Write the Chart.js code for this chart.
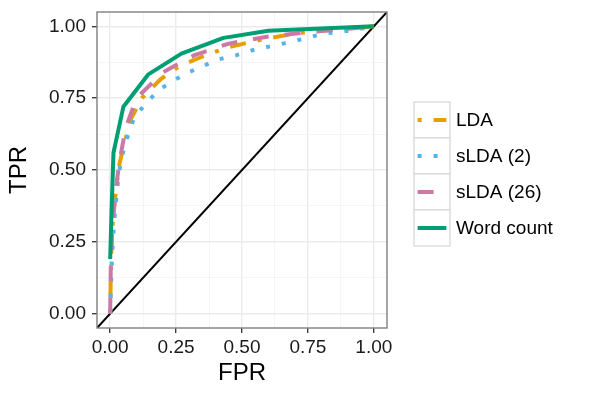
<!DOCTYPE html>
<html><head><meta charset="utf-8">
<script src="https://cdn.jsdelivr.net/npm/chart.js@4/dist/chart.umd.min.js"></script>
<style>html,body{margin:0;padding:0;background:#fff}#wrap{width:600px;height:400px}</style>
</head><body><div id="wrap"><canvas id="c" width="600" height="400"></canvas></div>
<script>
// ---- data ----
const seriesNames = ['LDA', 'sLDA (2)', 'sLDA (26)', 'Word count'];
const ldaFPR = [0, 0.002, 0.005, 0.012, 0.025, 0.035, 0.05, 0.08, 0.12, 0.19, 0.26, 0.35, 0.44, 0.53, 0.61, 0.7, 0.8, 0.89, 1];
const ldaTPR = [0, 0.12, 0.24, 0.35, 0.45, 0.52, 0.58, 0.68, 0.75, 0.815, 0.86, 0.895, 0.925, 0.945, 0.96, 0.975, 0.985, 0.99, 1];
const slda2FPR = [0, 0.003, 0.007, 0.015, 0.027, 0.04, 0.06, 0.09, 0.13, 0.18, 0.23, 0.29, 0.35, 0.41, 0.48, 0.54, 0.61, 0.68, 0.74, 0.81, 0.87, 0.94, 1];
const slda2TPR = [0, 0.1, 0.2, 0.32, 0.44, 0.53, 0.6, 0.68, 0.726, 0.775, 0.806, 0.837, 0.861, 0.885, 0.9, 0.917, 0.931, 0.945, 0.958, 0.975, 0.98, 0.99, 1];
const slda26FPR = [0, 0.002, 0.007, 0.02, 0.035, 0.06, 0.1, 0.2, 0.32, 0.45, 0.6, 0.75, 0.88, 1];
const slda26TPR = [0, 0.15, 0.28, 0.42, 0.53, 0.65, 0.75, 0.84, 0.9, 0.94, 0.965, 0.98, 0.99, 1];
const wcFPR = [0, 0.005, 0.0125, 0.05, 0.145, 0.27, 0.43, 0.6, 1];
const wcTPR = [0.19, 0.35, 0.56, 0.72, 0.833, 0.905, 0.96, 0.985, 1];
const diagFPR = [-0.05, 1.05];
const diagTPR = [-0.05, 1.05];
const majorTicks = [0, 0.25, 0.5, 0.75, 1];
const minorTicks = [0.125, 0.375, 0.625, 0.875];
const tickLabels = ['0.00', '0.25', '0.50', '0.75', '1.00'];
const colors = ['#E69F00', '#56B4E9', '#CC79A7', '#009E73'];

const LW = 4;
const dashes = [[LW, 3*LW, 4*LW, 3*LW], [LW, 3*LW], [4*LW, 4*LW], []];

function pts(xs, ys) { return xs.map((x, i) => ({x: x, y: ys[i]})); }
const seriesData = [pts(ldaFPR, ldaTPR), pts(slda2FPR, slda2TPR), pts(slda26FPR, slda26TPR), pts(wcFPR, wcTPR)];

const datasets = seriesNames.map((n, i) => ({
  label: n, data: seriesData[i], borderColor: colors[i], borderWidth: LW,
  borderDash: dashes[i], borderCapStyle: 'butt', borderJoinStyle: 'round',
  pointRadius: 0, tension: 0, fill: false, order: 3 - i
}));
datasets.push({label: 'diag', data: pts(diagFPR, diagTPR), borderColor: '#000', borderWidth: 2,
  pointRadius: 0, fill: false, order: 10});

function buildTicks(scale) {
  const all = majorTicks.concat(minorTicks).sort((a, b) => a - b);
  scale.ticks = all.map(v => ({value: v}));
}
function isMajor(v) { return majorTicks.some(m => Math.abs(m - v) < 1e-9); }
function labelFor(v) { const k = majorTicks.findIndex(m => Math.abs(m - v) < 1e-9); return k >= 0 ? tickLabels[k] : ''; }
const gridOpts = {
  color: c => isMajor(c.tick ? c.tick.value : 0) ? '#EBEBEB' : '#F3F3F3',
  lineWidth: c => isMajor(c.tick ? c.tick.value : 0) ? 1.4 : 0.8,
  tickColor: c => isMajor(c.tick ? c.tick.value : 0) ? '#333333' : 'rgba(0,0,0,0)',
  tickLength: 5, tickWidth: 1.3, drawTicks: true
};

const panelBorder = {
  id: 'panelBorder',
  afterDatasetsDraw(chart) {
    const a = chart.chartArea, ctx = chart.ctx;
    ctx.save();
    ctx.strokeStyle = '#7F7F7F'; ctx.lineWidth = 1.4;
    ctx.strokeRect(a.left, a.top, a.right - a.left, a.bottom - a.top);
    ctx.restore();
  }
};
const legendPlugin = {
  id: 'ggLegend',
  afterDraw(chart) {
    const ctx = chart.ctx;
    const x0 = 414, y0 = 102, kw = 36, kh = 36;
    ctx.save();
    seriesNames.forEach((n, i) => {
      const y = y0 + i * kh;
      ctx.fillStyle = '#fff'; ctx.fillRect(x0, y, kw, kh);
      ctx.strokeStyle = '#D9D9D9'; ctx.lineWidth = 1.3; ctx.setLineDash([]);
      ctx.strokeRect(x0, y, kw, kh);
      ctx.save();
      ctx.beginPath(); ctx.rect(x0, y, kw, kh); ctx.clip();
      ctx.strokeStyle = colors[i]; ctx.lineWidth = LW; ctx.lineCap = 'butt';
      ctx.setLineDash(dashes[i]);
      ctx.beginPath(); ctx.moveTo(x0 + kw * 0.1, y + kh / 2); ctx.lineTo(x0 + kw * 0.9, y + kh / 2); ctx.stroke();
      ctx.restore();
      ctx.fillStyle = '#000'; ctx.font = '19px "Liberation Sans", Arial, sans-serif';
      ctx.textAlign = 'left'; ctx.textBaseline = 'middle';
      ctx.fillText(n, 456, y + kh / 2 + 1);
    });
    ctx.restore();
  }
};

new Chart(document.getElementById('c'), {
  type: 'line',
  data: {datasets: datasets},
  plugins: [panelBorder, legendPlugin],
  options: {
    responsive: false, animation: false, devicePixelRatio: 1,
    layout: {padding: {left: 0, right: 213, top: 12, bottom: 0}},
    plugins: {legend: {display: false}, tooltip: {enabled: false}},
    scales: {
      x: {
        type: 'linear', min: -0.05, max: 1.05,
        afterBuildTicks: buildTicks,
        afterFit: s => { s.height = 72; s.paddingLeft = 0; s.paddingRight = 0; },
        ticks: {callback: v => labelFor(v), autoSkip: false, maxRotation: 0, padding: 3,
          color: '#1A1A1A', font: {family: '"Liberation Sans", Arial, sans-serif', size: 19}},
        grid: gridOpts, border: {display: false},
        title: {display: true, text: 'FPR', color: '#000', padding: {top: 0, bottom: 12},
          font: {family: '"Liberation Sans", Arial, sans-serif', size: 24}}
      },
      y: {
        type: 'linear', min: -0.05, max: 1.05,
        afterBuildTicks: buildTicks,
        afterFit: s => { s.width = 97; s.paddingTop = 0; s.paddingBottom = 0; },
        ticks: {callback: v => labelFor(v), autoSkip: false, padding: 6,
          color: '#1A1A1A', font: {family: '"Liberation Sans", Arial, sans-serif', size: 19}},
        grid: gridOpts, border: {display: false},
        title: {display: true, text: 'TPR', color: '#000', padding: {top: 5, bottom: 0},
          font: {family: '"Liberation Sans", Arial, sans-serif', size: 24}}
      }
    }
  }
});
</script></body></html>
